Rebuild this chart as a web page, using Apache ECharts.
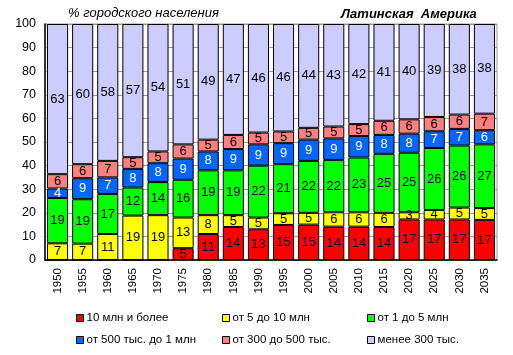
<!DOCTYPE html>
<html><head><meta charset="utf-8">
<script src="https://cdn.jsdelivr.net/npm/echarts@6/dist/echarts.min.js"></script>
<style>html,body{margin:0;padding:0;background:#fff}#c{width:513px;height:355px}</style>
</head><body><div id="c"></div>
<script>
const years = ['1950','1955','1960','1965','1970','1975','1980','1985','1990','1995','2000','2005','2010','2015','2020','2025','2030','2035'];
const names = ['10 млн и более','от 5 до 10 млн','от 1 до 5 млн','от 500 тыс. до 1 млн','от 300 до 500 тыс.','менее 300 тыс.'];
const s10m   = [0,0,0,0,0,5,11,14,13,15,15,14,14,14,17,17,17,17];
const s5to10 = [7,7,11,19,19,13,8,5,5,5,5,6,6,6,3,4,5,5];
const s1to5  = [19,19,17,12,14,16,19,19,22,21,22,22,23,25,25,26,26,27];
const s500k  = [4,9,7,8,8,9,8,9,9,9,9,9,9,8,8,7,7,6];
const s300k  = [6,6,7,5,5,6,5,6,5,5,5,5,5,6,6,6,6,7];
const sLess  = [63,60,58,57,54,51,49,47,46,46,44,43,42,41,40,39,38,38];
const yTicks = [0,10,20,30,40,50,60,70,80,90,100];

const raw = [s10m,s5to10,s1to5,s500k,s300k,sLess];
const colors = ['#FF0000','#FFFF00','#00FF00','#0066FF','#FF8080','#CCCCFF'];
const labelColors = ['#000','#000','#000','#fff','#000','#000'];
const totals = years.map((_,i)=>raw.reduce((a,s)=>a+s[i],0));
const font = 'Arial, "Liberation Sans", sans-serif';

const series = raw.map((arr,k)=>({
  name: names[k], type:'bar', stack:'t', barCategoryGap:'16%',
  data: arr.map((v,i)=>v/totals[i]*100),
  itemStyle:{color:colors[k], borderColor:'#000', borderWidth:1},
  label:{show:true, position:'inside', color:labelColors[k], fontSize:13, fontFamily:font,
    formatter:p=>{const v=arr[p.dataIndex];return v?String(v):'';}},
  emphasis:{disabled:true}
}));

const legPos = [[76,312],[222,312],[367,312],[76,334],[222,334],[367,334]];
const legends = names.map((n,k)=>({
  data:[n], left:legPos[k][0], top:legPos[k][1], itemWidth:7, itemHeight:7, icon:'rect',
  itemStyle:{borderColor:'#000', borderWidth:1}, padding:0,
  textStyle:{fontSize:11.5, fontFamily:font, color:'#000', padding:[0,0,0,-2]}, selectedMode:false
}));

const chart = echarts.init(document.getElementById('c'), null, {renderer:'canvas'});
chart.setOption({
  animation:false,
  backgroundColor:'#fff',
  grid:{left:45, right:16, top:24, bottom:95, show:true, borderColor:'#999', borderWidth:1},
  title:[
    {text:'% городского населения', left:68, top:7, padding:0,
     textStyle:{fontSize:13, fontStyle:'italic', fontWeight:'normal', fontFamily:font, color:'#000'}},
    {text:'Латинская  Америка', left:341, top:8, padding:0,
     textStyle:{fontSize:13, fontStyle:'italic', fontWeight:'bold', fontFamily:font, color:'#000'}}
  ],
  legend: legends,
  xAxis:{type:'category', data:years,
    axisLine:{lineStyle:{color:'#000', width:1.5}}, axisTick:{show:false},
    axisLabel:{rotate:90, fontSize:11.5, fontFamily:font, color:'#000', margin:8, interval:0}},
  yAxis:{type:'value', min:yTicks[0], max:yTicks[yTicks.length-1], interval:10,
    axisLine:{show:true, lineStyle:{color:'#000', width:1.5}}, axisTick:{show:false},
    splitLine:{lineStyle:{color:'#999'}},
    axisLabel:{fontSize:12.5, fontFamily:font, color:'#000', margin:9}},
  series
});
</script></body></html>
